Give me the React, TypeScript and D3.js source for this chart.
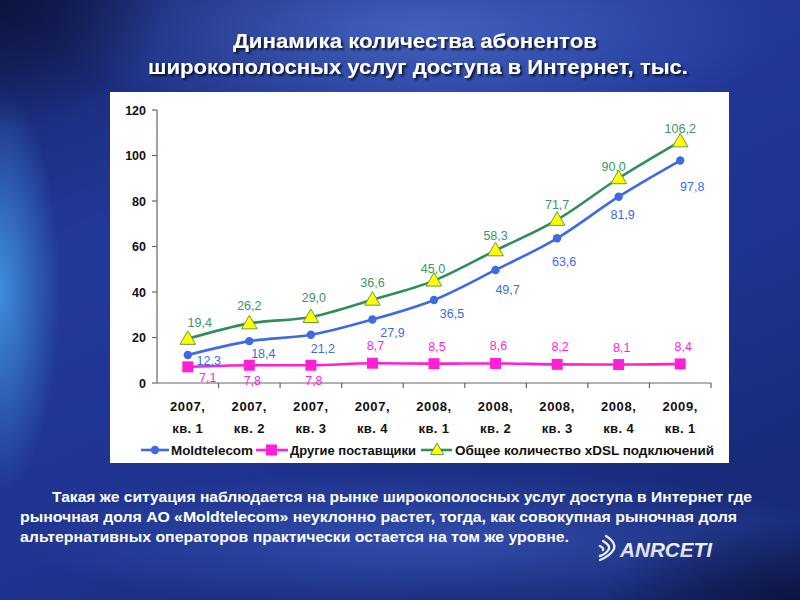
import React from 'react';
import * as d3 from 'd3';

const quarters = ['2007, кв. 1', '2007, кв. 2', '2007, кв. 3', '2007, кв. 4', '2008, кв. 1', '2008, кв. 2', '2008, кв. 3', '2008, кв. 4', '2009, кв. 1'];
const quarterYear = ['2007,', '2007,', '2007,', '2007,', '2008,', '2008,', '2008,', '2008,', '2009,'];
const quarterName = ['кв. 1', 'кв. 2', 'кв. 3', 'кв. 4', 'кв. 1', 'кв. 2', 'кв. 3', 'кв. 4', 'кв. 1'];
const moldtelecom = [12.3, 18.4, 21.2, 27.9, 36.5, 49.7, 63.6, 81.9, 97.8];
const others = [7.1, 7.8, 7.8, 8.7, 8.5, 8.6, 8.2, 8.1, 8.4];
const total = [19.4, 26.2, 29.0, 36.6, 45.0, 58.3, 71.7, 90.0, 106.2];
const yTicks = [0, 20, 40, 60, 80, 100, 120];
const seriesNames = ['Moldtelecom', 'Другие поставщики', 'Общее количество xDSL подключений'];
const titleLines = ['Динамика количества абонентов', 'широкополосных услуг доступа в Интернет, тыс.'];
const bodyLines = [
  'Такая же ситуация наблюдается на рынке широкополосных услуг доступа в Интернет где',
  'рыночная доля АО «Moldtelecom» неуклонно растет, тогда, как совокупная рыночная доля',
  'альтернативных операторов практически остается на том же уровне.',
];

// label placement (layout only)
const blueLabelDx = [21, 14, 12, 20, 18, 12, 7, 4, 12];
const blueLabelDy = [6, 13, 14, 13, 14, 20, 24, 18, 26];
const greenLabelDx = [12, 0, 3, 0, -1, 0, 0, -5, 0];
const greenLabelDy = [-12, -13, -15, -13, -8, -10, -11, -7, -8];

const BLUE = '#3e6ae4';
const PINK = '#ff1fd6';
const GREEN = '#2f8f5a';
const GREEN_LABEL = '#3c9468';
const FONT = '"Liberation Sans", Arial, sans-serif';

const fmt = (v: number) => d3.format('.1f')(v).replace('.', ',');

export default function App() {
  const x = d3.scaleBand<string>().domain(quarters).range([157, 711]);
  const y = d3.scaleLinear().domain([0, 120]).range([383, 110]);
  const cx = (i: number) => (x(quarters[i]) as number) + x.bandwidth() / 2;
  const line = d3
    .line<number>()
    .x((_, i) => cx(i))
    .y((d) => y(d))
    .curve(d3.curveMonotoneX);

  const tri = (px: number, py: number, s: number) =>
    `M${px},${py - s * 0.62} L${px + s * 0.6},${py + s * 0.42} L${px - s * 0.6},${py + s * 0.42} Z`;

  return (
    <svg width={800} height={600} style={{ position: 'absolute', left: 0, top: 0 }} fontFamily={FONT}>
      <defs>
        <linearGradient id="bg" x1="0" y1="0" x2="0.6" y2="1">
          <stop offset="0" stopColor="#17246a" />
          <stop offset="0.35" stopColor="#23399a" />
          <stop offset="0.7" stopColor="#1f3490" />
          <stop offset="1" stopColor="#182a78" />
        </linearGradient>
        <radialGradient id="glowTop" cx="0.5" cy="0.5" r="0.5">
          <stop offset="0" stopColor="#4a6cc8" stopOpacity="0.8" />
          <stop offset="1" stopColor="#4a6cc8" stopOpacity="0" />
        </radialGradient>
        <radialGradient id="glowLeft" cx="0.5" cy="0.5" r="0.5">
          <stop offset="0" stopColor="#3f93e0" stopOpacity="0.95" />
          <stop offset="1" stopColor="#3f93e0" stopOpacity="0" />
        </radialGradient>
        <radialGradient id="glowBottom" cx="0.5" cy="0.5" r="0.5">
          <stop offset="0" stopColor="#3d5cc0" stopOpacity="0.7" />
          <stop offset="1" stopColor="#3d5cc0" stopOpacity="0" />
        </radialGradient>
        <radialGradient id="darkCorner" cx="0.5" cy="0.5" r="0.5">
          <stop offset="0" stopColor="#0a1035" stopOpacity="0.85" />
          <stop offset="1" stopColor="#0a1035" stopOpacity="0" />
        </radialGradient>
        <linearGradient id="logoGrad" x1="0" y1="0" x2="0" y2="1">
          <stop offset="0" stopColor="#ffffff" />
          <stop offset="1" stopColor="#c8d0e0" />
        </linearGradient>
        <filter id="shadow" x="-5%" y="-20%" width="110%" height="140%">
          <feDropShadow dx="2" dy="2" stdDeviation="0.8" floodColor="#000" floodOpacity="0.75" />
        </filter>
      </defs>

      <rect width={800} height={600} fill="url(#bg)" />
      <ellipse cx={420} cy={30} rx={360} ry={110} fill="url(#glowTop)" />
      <ellipse cx={0} cy={290} rx={60} ry={200} fill="url(#glowLeft)" />
      <ellipse cx={430} cy={540} rx={420} ry={70} fill="url(#glowBottom)" />
      <ellipse cx={0} cy={0} rx={170} ry={130} fill="url(#darkCorner)" />
      <ellipse cx={800} cy={600} rx={200} ry={80} fill="url(#darkCorner)" />

      {titleLines.map((t, i) => (
        <text
          key={t}
          x={i === 0 ? 415 : 418}
          y={i === 0 ? 48 : 74}
          textAnchor="middle"
          fill="#fff"
          fontWeight="bold"
          fontSize={20}
          filter="url(#shadow)"
          textLength={i === 0 ? 364 : 540}
          lengthAdjust="spacingAndGlyphs"
        >
          {t}
        </text>
      ))}

      <rect x={110} y={92} width={619} height={371} fill="#fff" />

      {/* y axis */}
      <line x1={157} x2={157} y1={y(120)} y2={y(0)} stroke="#666" strokeWidth={1.2} />
      {yTicks.map((t) => (
        <g key={t}>
          <line x1={152} x2={157} y1={y(t)} y2={y(t)} stroke="#666" strokeWidth={1.2} />
          <text x={146} y={y(t) + 4.5} textAnchor="end" fontSize={12.5} fontWeight="bold" fill="#111">
            {t}
          </text>
        </g>
      ))}
      {/* x axis */}
      <line x1={157} x2={711} y1={y(0)} y2={y(0)} stroke="#666" strokeWidth={1.2} />
      {quarters.map((q, i) => (
        <g key={q}>
          <line
            x1={(x(q) as number) + x.bandwidth()}
            x2={(x(q) as number) + x.bandwidth()}
            y1={y(0)}
            y2={y(0) + 5}
            stroke="#666"
            strokeWidth={1.2}
          />
          <text x={cx(i)} y={411} textAnchor="middle" fontSize={13} fontWeight="bold" fill="#111" letterSpacing={0.6}>
            {quarterYear[i]}
          </text>
          <text x={cx(i)} y={433} textAnchor="middle" fontSize={13} fontWeight="bold" fill="#111" letterSpacing={0.4}>
            {quarterName[i]}
          </text>
        </g>
      ))}

      {/* lines */}
      <path d={line(total) || ''} fill="none" stroke={GREEN} strokeWidth={2.6} />
      <path d={line(moldtelecom) || ''} fill="none" stroke={BLUE} strokeWidth={2.6} />
      <path d={line(others) || ''} fill="none" stroke={PINK} strokeWidth={2.6} />

      {/* markers */}
      {total.map((v, i) => (
        <path key={'t' + i} d={tri(cx(i), y(v), 13)} fill="#ffff00" stroke="#6a9a40" strokeWidth={1} />
      ))}
      {moldtelecom.map((v, i) => (
        <circle key={'m' + i} cx={cx(i)} cy={y(v)} r={4.2} fill={BLUE} />
      ))}
      {others.map((v, i) => (
        <rect key={'o' + i} x={cx(i) - 5.5} y={y(v) - 5.5} width={11} height={11} fill={PINK} />
      ))}

      {/* data labels */}
      {total.map((v, i) => (
        <text
          key={'tl' + i}
          x={cx(i) + greenLabelDx[i]}
          y={y(v) + greenLabelDy[i]}
          textAnchor="middle"
          fontSize={12.5}
          fill={GREEN_LABEL}
        >
          {fmt(v)}
        </text>
      ))}
      {moldtelecom.map((v, i) => (
        <text
          key={'ml' + i}
          x={cx(i) + blueLabelDx[i]}
          y={y(v) + blueLabelDy[i] + 4}
          textAnchor="middle"
          fontSize={12.5}
          fill={BLUE}
        >
          {fmt(v)}
        </text>
      ))}
      {others.map((v, i) => (
        <text
          key={'ol' + i}
          x={cx(i) + (i === 0 ? 20 : 3)}
          y={i < 3 ? y(v) + (i === 0 ? 15 : 20) : y(v) - 13}
          textAnchor="middle"
          fontSize={12.5}
          fill={PINK}
        >
          {fmt(v)}
        </text>
      ))}

      {/* legend */}
      <g>
        <line x1={141} x2={169} y1={450} y2={450} stroke={BLUE} strokeWidth={2.6} />
        <circle cx={155} cy={450} r={4.2} fill={BLUE} />
        <text x={171} y={454.5} fontSize={12.5} fontWeight="bold" fill="#111" textLength={82} lengthAdjust="spacingAndGlyphs">
          {seriesNames[0]}
        </text>
        <line x1={256} x2={288} y1={450} y2={450} stroke={PINK} strokeWidth={2.6} />
        <rect x={266} y={444.5} width={11} height={11} fill={PINK} />
        <text x={290} y={454.5} fontSize={12.5} fontWeight="bold" fill="#111" textLength={126} lengthAdjust="spacingAndGlyphs">
          {seriesNames[1]}
        </text>
        <line x1={421} x2={452} y1={450} y2={450} stroke={GREEN} strokeWidth={2.6} />
        <path d={tri(437, 450, 11)} fill="#ffff00" stroke="#6a9a40" strokeWidth={1} />
        <text x={455} y={454.5} fontSize={12.5} fontWeight="bold" fill="#111" textLength={259} lengthAdjust="spacingAndGlyphs">
          {seriesNames[2]}
        </text>
      </g>

      {/* body text */}
      {bodyLines.map((t, i) => (
        <text
          key={i}
          x={i === 0 ? 52 : 20}
          y={502 + i * 20}
          fill="#fff"
          fontSize={15}
          fontWeight="bold"
          textLength={i === 0 ? 700 : i === 1 ? 717 : 549}
          lengthAdjust="spacingAndGlyphs"
        >
          {t}
        </text>
      ))}

      {/* logo */}
      <g fill="none" stroke="#e8ecf5" strokeWidth={2.4} strokeLinecap="round">
        <path d="M606,536 Q616,542 614,549 Q610,556 600,560" />
        <path d="M603,541 Q610,545 609,549 Q606,554 600,556" />
        <path d="M600,546 Q604,548 603,550" />
      </g>
      <text
        x={620}
        y={557}
        fontSize={20}
        fontWeight="bold"
        fontStyle="italic"
        fill="url(#logoGrad)"
        textLength={92}
        lengthAdjust="spacingAndGlyphs"
      >
        ANRCETI
      </text>
    </svg>
  );
}
